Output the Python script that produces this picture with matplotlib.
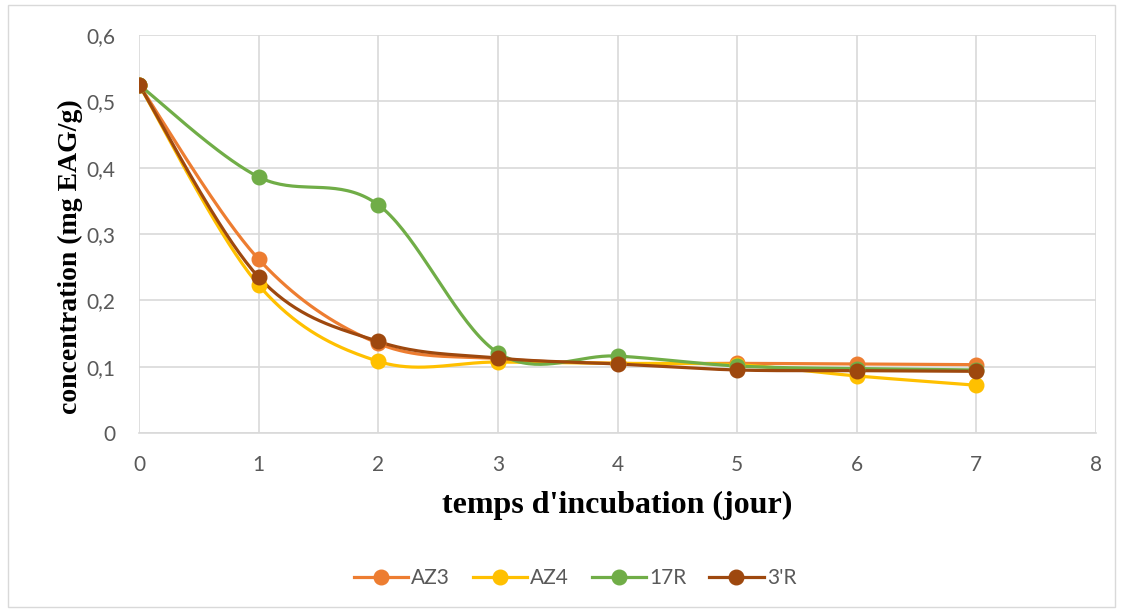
import numpy as np
import matplotlib
matplotlib.use("Agg")
import matplotlib.pyplot as plt
from matplotlib.ticker import FuncFormatter, MultipleLocator
from matplotlib.lines import Line2D
from matplotlib.patches import Rectangle

days = [0, 1, 2, 3, 4, 5, 6, 7]
az3 = [0.525, 0.262, 0.135, 0.112, 0.105, 0.105, 0.104, 0.103]
az4 = [0.525, 0.223, 0.108, 0.107, 0.105, 0.103, 0.086, 0.072]
r17 = [0.525, 0.386, 0.344, 0.121, 0.116, 0.101, 0.097, 0.095]
r3p = [0.525, 0.235, 0.138, 0.113, 0.104, 0.095, 0.094, 0.093]

series_names = ["AZ3", "AZ4", "17R", "3'R"]
series_vals = [az3, az4, r17, r3p]
colors = ["#ED7D31", "#FFC000", "#70AD47", "#9E480E"]

TICK_FONT = ["Lato", "DejaVu Sans"]
LABEL_FONT = "Liberation Serif"


def smooth(x, y, n=40):
    """Catmull-Rom style cubic Bezier smoothing through every point."""
    x = np.asarray(x, float)
    y = np.asarray(y, float)
    px = np.concatenate([[x[0]], x, [x[-1]]])
    py = np.concatenate([[y[0]], y, [y[-1]]])
    t = np.linspace(0, 1, n)
    xs, ys = [], []
    for i in range(1, len(px) - 2):
        p0 = np.array([px[i], py[i]])
        p3 = np.array([px[i + 1], py[i + 1]])
        c1 = p0 + (p3 - np.array([px[i - 1], py[i - 1]])) / 6.0
        c2 = p3 - (np.array([px[i + 2], py[i + 2]]) - p0) / 6.0
        b = ((1 - t) ** 3)[:, None] * p0 + (3 * (1 - t) ** 2 * t)[:, None] * c1 \
            + (3 * (1 - t) * t ** 2)[:, None] * c2 + (t ** 3)[:, None] * p3
        xs.append(b[:, 0])
        ys.append(b[:, 1])
    return np.concatenate(xs), np.concatenate(ys)


fig = plt.figure(figsize=(11.23, 6.12), dpi=100)
fig.patches.append(Rectangle((0.007, 0.008), 0.986, 0.984, transform=fig.transFigure,
                             fill=False, edgecolor="#D9D9D9", linewidth=1))

ax = fig.add_axes([139 / 1123, 1 - 433 / 612, (1096 - 139) / 1123, (433 - 35) / 612])
ax.set_xlim(0, 8)
ax.set_ylim(0, 0.6)
ax.xaxis.set_major_locator(MultipleLocator(1))
ax.yaxis.set_major_locator(MultipleLocator(0.1))
ax.yaxis.set_major_formatter(FuncFormatter(lambda v, p: "0" if abs(v) < 1e-9 else f"{v:.1f}".replace(".", ",")))
ax.xaxis.set_major_formatter(FuncFormatter(lambda v, p: f"{int(round(v))}"))
ax.grid(True, color="#D9D9D9", linewidth=1.2)
ax.set_axisbelow(True)
for s in ["top", "right", "left"]:
    ax.spines[s].set_visible(False)
ax.spines["bottom"].set_color("#D9D9D9")
ax.spines["bottom"].set_linewidth(1.2)
ax.tick_params(axis="x", length=0, labelsize=15, labelcolor="#595959", pad=16)
ax.tick_params(axis="y", length=0, labelsize=15, labelcolor="#595959", pad=17)
for lab in ax.get_xticklabels() + ax.get_yticklabels():
    lab.set_fontfamily(TICK_FONT)

for name, vals, c in zip(series_names, series_vals, colors):
    sx, sy = smooth(days, vals)
    ax.plot(sx, sy, color=c, linewidth=2.3, solid_capstyle="round", zorder=3)
    ax.plot(days, vals, linestyle="none", marker="o", markersize=10.5, color=c, zorder=4)

ax.set_xlabel("temps d'incubation (jour)", fontfamily=LABEL_FONT,
              fontweight="bold", fontsize=23, labelpad=11)
ax.set_ylabel("concentration (mg EAG/g)", fontfamily=LABEL_FONT,
              fontweight="bold", fontsize=20)
ax.yaxis.set_label_coords((83 - 139) / 957, (433 - 257) / 398)

handles = [Line2D([0], [0], color=c, linewidth=2.3, marker="o", markersize=10.5)
           for c in colors]
leg = fig.legend(handles, series_names, loc="center", bbox_to_anchor=(0.512, 1 - 578 / 612),
                 ncol=4, frameon=False, handlelength=2.6, columnspacing=1.1,
                 handletextpad=0.15, prop={"family": TICK_FONT, "size": 15})
for t in leg.get_texts():
    t.set_color("#595959")

fig.savefig("out.png", dpi=100)
